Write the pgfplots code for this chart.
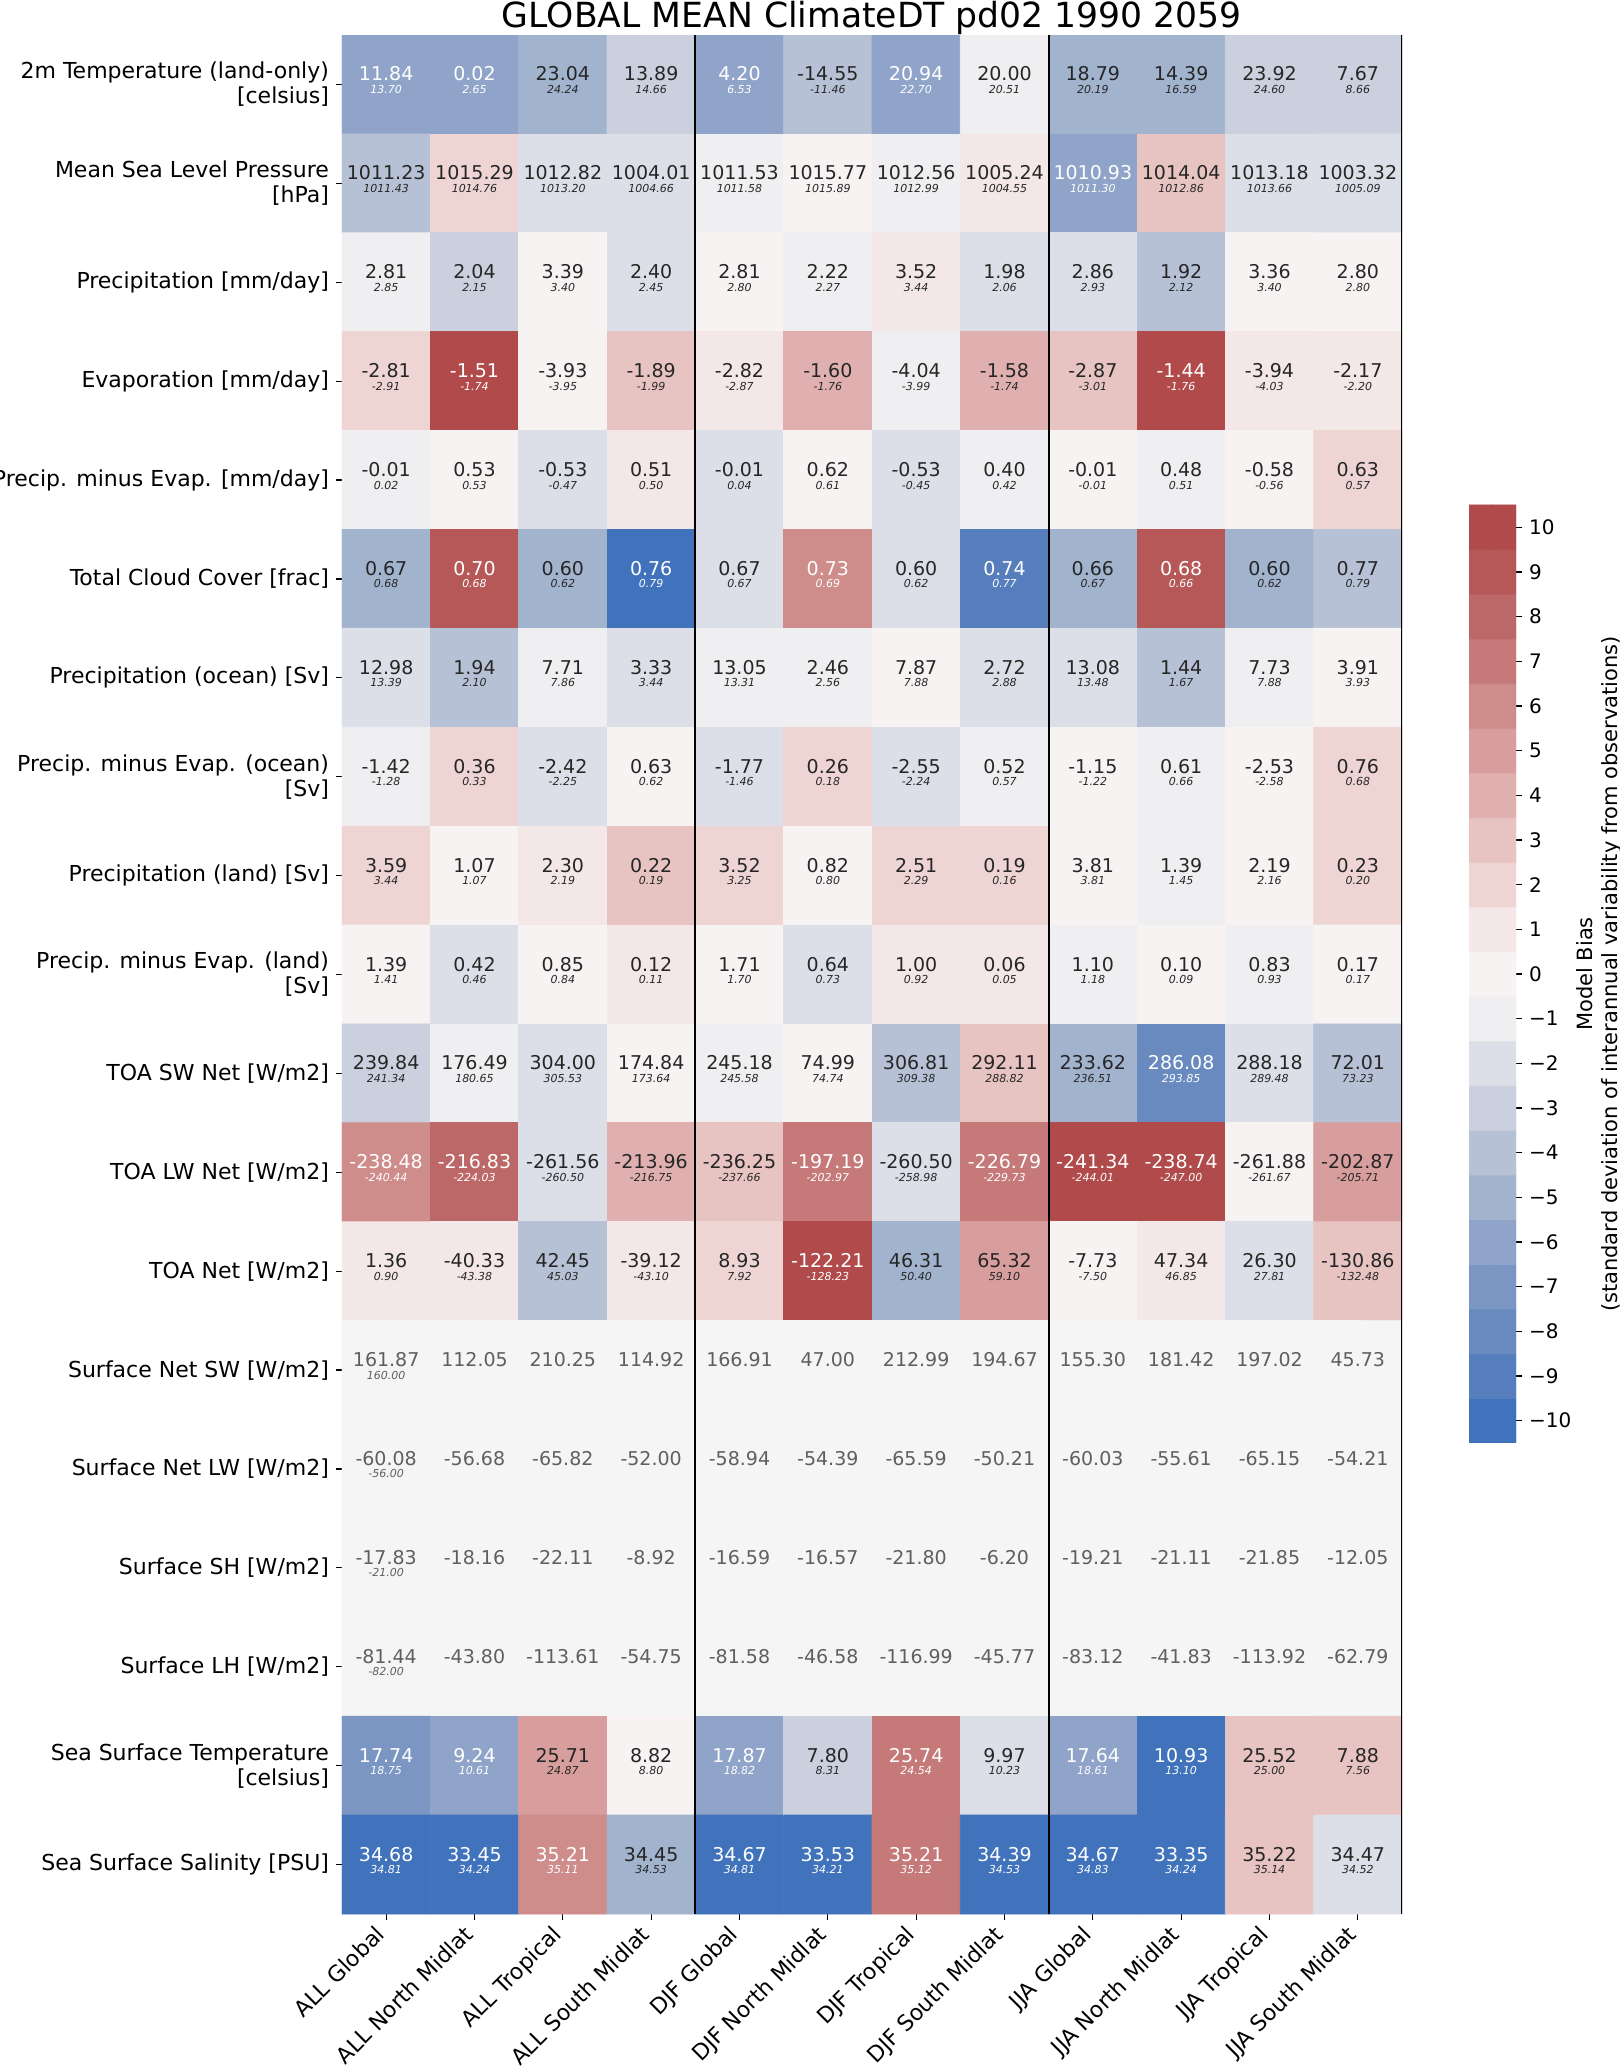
\documentclass[border=0pt]{standalone}
\usepackage{pgfplots}
\usepackage{pgfplotstable}
\pgfplotsset{compat=1.18}
\usepackage{fontspec}
\setmainfont{DejaVu Sans}

\definecolor{tw}{RGB}{255,255,255}
\definecolor{tk}{RGB}{38,38,38}
\definecolor{tg}{RGB}{95,95,95}

% 21 bias bands (-10 ... 10) and one grey entry for rows without observations
\pgfplotsset{
  colormap={bias}{
    rgb255=(64,115,188) rgb255=(86,126,189) rgb255=(104,138,191) rgb255=(123,150,194)
    rgb255=(143,164,200) rgb255=(162,179,206) rgb255=(182,193,214) rgb255=(203,208,223)
    rgb255=(220,223,231) rgb255=(239,239,241) rgb255=(248,243,243) rgb255=(244,231,231)
    rgb255=(238,213,212) rgb255=(231,195,193) rgb255=(223,176,175) rgb255=(215,158,157)
    rgb255=(206,140,139) rgb255=(197,121,121) rgb255=(189,104,104) rgb255=(182,88,88)
    rgb255=(176,74,75) rgb255=(245,245,245)
  },
}

% text colour from the band: white on dark cells, grey where there is no bias
\newcommand\cellcolor[1]{%
  \pgfmathtruncatemacro\absb{abs(#1)}%
  \ifnum\absb>10 \color{tg}\else\ifnum\absb>5 \color{tw}\else\color{tk}\fi\fi}

% x: region, y: variable (0 = top), b: bias band (11 = no obs), v: model, r: obs
\pgfplotstableread{
x y b v r
0 0 -6 11.84 13.70
1 0 -6 0.02 2.65
2 0 -5 23.04 24.24
3 0 -3 13.89 14.66
4 0 -6 4.20 6.53
5 0 -4 -14.55 -11.46
6 0 -6 20.94 22.70
7 0 -1 20.00 20.51
8 0 -5 18.79 20.19
9 0 -5 14.39 16.59
10 0 -3 23.92 24.60
11 0 -3 7.67 8.66
0 1 -4 1011.23 1011.43
1 1 2 1015.29 1014.76
2 1 -2 1012.82 1013.20
3 1 -2 1004.01 1004.66
4 1 -1 1011.53 1011.58
5 1 0 1015.77 1015.89
6 1 -1 1012.56 1012.99
7 1 1 1005.24 1004.55
8 1 -6 1010.93 1011.30
9 1 3 1014.04 1012.86
10 1 -2 1013.18 1013.66
11 1 -2 1003.32 1005.09
0 2 -1 2.81 2.85
1 2 -3 2.04 2.15
2 2 0 3.39 3.40
3 2 -2 2.40 2.45
4 2 0 2.81 2.80
5 2 -1 2.22 2.27
6 2 1 3.52 3.44
7 2 -2 1.98 2.06
8 2 -2 2.86 2.93
9 2 -4 1.92 2.12
10 2 0 3.36 3.40
11 2 0 2.80 2.80
0 3 2 -2.81 -2.91
1 3 10 -1.51 -1.74
2 3 0 -3.93 -3.95
3 3 3 -1.89 -1.99
4 3 1 -2.82 -2.87
5 3 4 -1.60 -1.76
6 3 -1 -4.04 -3.99
7 3 4 -1.58 -1.74
8 3 3 -2.87 -3.01
9 3 10 -1.44 -1.76
10 3 1 -3.94 -4.03
11 3 1 -2.17 -2.20
0 4 -1 -0.01 0.02
1 4 0 0.53 0.53
2 4 -2 -0.53 -0.47
3 4 1 0.51 0.50
4 4 -2 -0.01 0.04
5 4 0 0.62 0.61
6 4 -2 -0.53 -0.45
7 4 -1 0.40 0.42
8 4 0 -0.01 -0.01
9 4 -1 0.48 0.51
10 4 0 -0.58 -0.56
11 4 2 0.63 0.57
0 5 -5 0.67 0.68
1 5 9 0.70 0.68
2 5 -5 0.60 0.62
3 5 -10 0.76 0.79
4 5 -2 0.67 0.67
5 5 6 0.73 0.69
6 5 -2 0.60 0.62
7 5 -9 0.74 0.77
8 5 -5 0.66 0.67
9 5 9 0.68 0.66
10 5 -5 0.60 0.62
11 5 -4 0.77 0.79
0 6 -2 12.98 13.39
1 6 -4 1.94 2.10
2 6 -1 7.71 7.86
3 6 -2 3.33 3.44
4 6 -1 13.05 13.31
5 6 -1 2.46 2.56
6 6 0 7.87 7.88
7 6 -2 2.72 2.88
8 6 -2 13.08 13.48
9 6 -4 1.44 1.67
10 6 -1 7.73 7.88
11 6 0 3.91 3.93
0 7 -1 -1.42 -1.28
1 7 2 0.36 0.33
2 7 -2 -2.42 -2.25
3 7 0 0.63 0.62
4 7 -2 -1.77 -1.46
5 7 2 0.26 0.18
6 7 -2 -2.55 -2.24
7 7 -1 0.52 0.57
8 7 0 -1.15 -1.22
9 7 -1 0.61 0.66
10 7 0 -2.53 -2.58
11 7 2 0.76 0.68
0 8 2 3.59 3.44
1 8 0 1.07 1.07
2 8 1 2.30 2.19
3 8 3 0.22 0.19
4 8 2 3.52 3.25
5 8 0 0.82 0.80
6 8 2 2.51 2.29
7 8 2 0.19 0.16
8 8 0 3.81 3.81
9 8 -1 1.39 1.45
10 8 0 2.19 2.16
11 8 2 0.23 0.20
0 9 0 1.39 1.41
1 9 -2 0.42 0.46
2 9 0 0.85 0.84
3 9 1 0.12 0.11
4 9 0 1.71 1.70
5 9 -2 0.64 0.73
6 9 1 1.00 0.92
7 9 1 0.06 0.05
8 9 -1 1.10 1.18
9 9 0 0.10 0.09
10 9 -1 0.83 0.93
11 9 0 0.17 0.17
0 10 -3 239.84 241.34
1 10 -1 176.49 180.65
2 10 -2 304.00 305.53
3 10 0 174.84 173.64
4 10 -1 245.18 245.58
5 10 0 74.99 74.74
6 10 -4 306.81 309.38
7 10 3 292.11 288.82
8 10 -5 233.62 236.51
9 10 -8 286.08 293.85
10 10 -2 288.18 289.48
11 10 -4 72.01 73.23
0 11 6 -238.48 -240.44
1 11 8 -216.83 -224.03
2 11 -2 -261.56 -260.50
3 11 4 -213.96 -216.75
4 11 3 -236.25 -237.66
5 11 7 -197.19 -202.97
6 11 -2 -260.50 -258.98
7 11 7 -226.79 -229.73
8 11 10 -241.34 -244.01
9 11 10 -238.74 -247.00
10 11 0 -261.88 -261.67
11 11 5 -202.87 -205.71
0 12 1 1.36 0.90
1 12 1 -40.33 -43.38
2 12 -4 42.45 45.03
3 12 1 -39.12 -43.10
4 12 2 8.93 7.92
5 12 10 -122.21 -128.23
6 12 -5 46.31 50.40
7 12 5 65.32 59.10
8 12 0 -7.73 -7.50
9 12 1 47.34 46.85
10 12 -2 26.30 27.81
11 12 3 -130.86 -132.48
0 13 11 161.87 160.00
1 13 11 112.05 {}
2 13 11 210.25 {}
3 13 11 114.92 {}
4 13 11 166.91 {}
5 13 11 47.00 {}
6 13 11 212.99 {}
7 13 11 194.67 {}
8 13 11 155.30 {}
9 13 11 181.42 {}
10 13 11 197.02 {}
11 13 11 45.73 {}
0 14 11 -60.08 -56.00
1 14 11 -56.68 {}
2 14 11 -65.82 {}
3 14 11 -52.00 {}
4 14 11 -58.94 {}
5 14 11 -54.39 {}
6 14 11 -65.59 {}
7 14 11 -50.21 {}
8 14 11 -60.03 {}
9 14 11 -55.61 {}
10 14 11 -65.15 {}
11 14 11 -54.21 {}
0 15 11 -17.83 -21.00
1 15 11 -18.16 {}
2 15 11 -22.11 {}
3 15 11 -8.92 {}
4 15 11 -16.59 {}
5 15 11 -16.57 {}
6 15 11 -21.80 {}
7 15 11 -6.20 {}
8 15 11 -19.21 {}
9 15 11 -21.11 {}
10 15 11 -21.85 {}
11 15 11 -12.05 {}
0 16 11 -81.44 -82.00
1 16 11 -43.80 {}
2 16 11 -113.61 {}
3 16 11 -54.75 {}
4 16 11 -81.58 {}
5 16 11 -46.58 {}
6 16 11 -116.99 {}
7 16 11 -45.77 {}
8 16 11 -83.12 {}
9 16 11 -41.83 {}
10 16 11 -113.92 {}
11 16 11 -62.79 {}
0 17 -7 17.74 18.75
1 17 -6 9.24 10.61
2 17 5 25.71 24.87
3 17 0 8.82 8.80
4 17 -6 17.87 18.82
5 17 -3 7.80 8.31
6 17 7 25.74 24.54
7 17 -2 9.97 10.23
8 17 -6 17.64 18.61
9 17 -10 10.93 13.10
10 17 3 25.52 25.00
11 17 3 7.88 7.56
0 18 -10 34.68 34.81
1 18 -10 33.45 34.24
2 18 6 35.21 35.11
3 18 -5 34.45 34.53
4 18 -10 34.67 34.81
5 18 -10 33.53 34.21
6 18 7 35.21 35.12
7 18 -10 34.39 34.53
8 18 -10 34.67 34.83
9 18 -10 33.35 34.24
10 18 3 35.22 35.14
11 18 -2 34.47 34.52
}\cells

\begin{document}
\begin{tikzpicture}
\useasboundingbox (0,0) rectangle (809.5pt,1034pt);

\begin{axis}[
    at={(171pt,77pt)}, anchor=south west,
    width=530pt, height=939.5pt, scale only axis,
    xmin=-0.5, xmax=11.5, ymin=-0.5, ymax=18.5,
    y dir=reverse,
    axis line style={draw=none},
    tick align=outside, tick pos=left,
    major tick length=3pt,
    tick style={line width=0.6pt, black},
    colormap name=bias, colormap access=direct,
    xtick={0,...,11}, ytick={0,...,18},
    xticklabels={ALL Global, ALL North Midlat, ALL Tropical, ALL South Midlat,
                 DJF Global, DJF North Midlat, DJF Tropical, DJF South Midlat,
                 JJA Global, JJA North Midlat, JJA Tropical, JJA South Midlat},
    yticklabels={
        {2m Temperature (land-only)\\{}[celsius]},
        {Mean Sea Level Pressure\\{}[hPa]},
        {Precipitation [mm/day]},
        {Evaporation [mm/day]},
        {Precip. minus Evap. [mm/day]},
        {Total Cloud Cover [frac]},
        {Precipitation (ocean) [Sv]},
        {Precip. minus Evap. (ocean)\\{}[Sv]},
        {Precipitation (land) [Sv]},
        {Precip. minus Evap. (land)\\{}[Sv]},
        {TOA SW Net [W/m2]},
        {TOA LW Net [W/m2]},
        {TOA Net [W/m2]},
        {Surface Net SW [W/m2]},
        {Surface Net LW [W/m2]},
        {Surface SH [W/m2]},
        {Surface LH [W/m2]},
        {Sea Surface Temperature\\{}[celsius]},
        {Sea Surface Salinity [PSU]}},
    xticklabel style={xshift=-6pt, yshift=1pt, rotate=45, anchor=north east,
                      inner sep=2pt, font=\fontsize{11}{13}\selectfont},
    yticklabel style={align=right, font=\fontsize{11}{12.5}\selectfont},
    title={GLOBAL MEAN ClimateDT pd02 1990 2059},
    every axis title/.style={at={(0.5,1)}, anchor=base, yshift=4pt,
                 font=\fontsize{17.3}{20}\selectfont},
  ]
  \addplot[matrix plot*, mesh/cols=12, point meta={\thisrow{b}+10}]
    table[x=x, y=y] {\cells};

  \addplot[black, line width=1pt] coordinates {(3.5,-0.5) (3.5,18.5)};
  \addplot[black, line width=1pt] coordinates {(7.5,-0.5) (7.5,18.5)};
  \addplot[black, line width=1pt] coordinates {(11.5,-0.5) (11.5,18.5)};

  % model values
  \addplot[only marks, mark=*, mark size=0pt,
    scatter/use mapped color={draw=none, fill=none},
    point meta=explicit symbolic,
    visualization depends on={\thisrow{b}\as\bias},
    nodes near coords={\cellcolor{\bias}\pgfplotspointmeta},
    nodes near coords align={center},
    every node near coord/.append style={anchor=center, yshift=5.2pt, inner sep=0pt,
                                         font=\fontsize{9.5}{11}\selectfont}]
    table[x=x, y=y, meta=v] {\cells};

  % observed values
  \addplot[only marks, mark=*, mark size=0pt,
    scatter/use mapped color={draw=none, fill=none},
    point meta=explicit symbolic,
    visualization depends on={\thisrow{b}\as\bias},
    nodes near coords={\cellcolor{\bias}\pgfplotspointmeta},
    nodes near coords align={center},
    every node near coord/.append style={anchor=center, yshift=-2.5pt, inner sep=0pt,
                                         font=\fontsize{5.5}{6.5}\selectfont\itshape}]
    table[x=x, y=y, meta=r] {\cells};
\end{axis}

% colour bar
\begin{axis}[
    at={(734.5pt,312.5pt)}, anchor=south west,
    width=23.5pt, height=469pt, scale only axis,
    xmin=-0.5, xmax=1.5, ymin=-10.5, ymax=10.5,
    axis line style={draw=none},
    colormap name=bias, colormap access=direct,
    xtick=\empty,
    ytick={-10,...,10},
    yticklabels={−10,−9,−8,−7,−6,−5,−4,−3,−2,−1,0,1,2,3,4,5,6,7,8,9,10},
    ytick pos=right, yticklabel pos=right,
    tick align=outside, major tick length=3pt,
    tick style={line width=0.6pt, black},
    yticklabel style={font=\fontsize{10}{12}\selectfont},
    ylabel={Model Bias\\(standard deviation of interannual variability from observations)},
    every axis y label/.style={at={([xshift=26.5pt]axis description cs:1,0.5)},
                               rotate=90, anchor=north, align=center,
                               font=\fontsize{10.5}{12.5}\selectfont},
  ]
  \addplot[matrix plot*, mesh/cols=2, point meta=explicit] coordinates {
    (0,-10) [0] (1,-10) [0]   (0,-9) [1] (1,-9) [1]   (0,-8) [2] (1,-8) [2]
    (0,-7) [3] (1,-7) [3]     (0,-6) [4] (1,-6) [4]   (0,-5) [5] (1,-5) [5]
    (0,-4) [6] (1,-4) [6]     (0,-3) [7] (1,-3) [7]   (0,-2) [8] (1,-2) [8]
    (0,-1) [9] (1,-1) [9]     (0,0) [10] (1,0) [10]   (0,1) [11] (1,1) [11]
    (0,2) [12] (1,2) [12]     (0,3) [13] (1,3) [13]   (0,4) [14] (1,4) [14]
    (0,5) [15] (1,5) [15]     (0,6) [16] (1,6) [16]   (0,7) [17] (1,7) [17]
    (0,8) [18] (1,8) [18]     (0,9) [19] (1,9) [19]   (0,10) [20] (1,10) [20]
  };
\end{axis}
\end{tikzpicture}
\end{document}
